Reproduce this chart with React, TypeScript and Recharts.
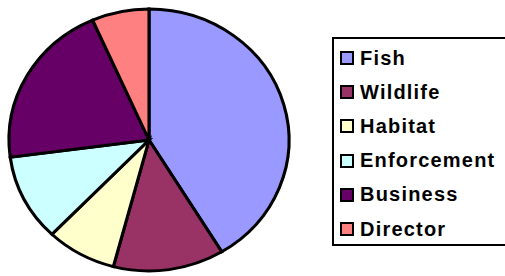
import { PieChart, Pie, Cell } from "recharts";

const categories = ["Fish", "Wildlife", "Habitat", "Enforcement", "Business", "Director"];
const shares = [41.3, 12.8, 8.1, 10.7, 20.5, 6.6];
const colors = ["#9999FF", "#993366", "#FFFFCC", "#CCFFFF", "#660066", "#FF8080"];

const data = categories.map((name, i) => ({ name, value: shares[i] }));

export default function App() {
  return (
    <div style={{ position: "fixed", left: 0, top: 0, width: 505, height: 276, overflow: "hidden", background: "#fff" }}>
      {/* the original pie is slightly wider than tall */}
      <style>{`.recharts-pie { transform-origin: 149px 140px; transform: scale(1.037, 0.97); }`}</style>
      <PieChart width={300} height={276} margin={{ top: 0, right: 0, bottom: 0, left: 0 }}>
        <Pie
          data={data}
          dataKey="value"
          nameKey="name"
          cx={149}
          cy={140}
          outerRadius={135}
          startAngle={90}
          endAngle={-270}
          stroke="#000"
          strokeWidth={3}
          isAnimationActive={false}
        >
          {data.map((d, i) => (
            <Cell key={d.name} fill={colors[i]} />
          ))}
        </Pie>
      </PieChart>
      <div
        style={{
          position: "absolute",
          left: 332,
          top: 37,
          width: 200,
          height: 209,
          boxSizing: "border-box",
          border: "2.5px solid #000",
          fontFamily: "'Liberation Sans', Arial, sans-serif",
          fontWeight: "bold",
          fontSize: 20,
          letterSpacing: 1.2,
          color: "#000",
        }}
      >
        {categories.map((c, i) => (
          <div key={c} style={{ position: "absolute", left: 6, top: 7 + i * 34.2, height: 24, display: "flex", alignItems: "center" }}>
            <span style={{ boxSizing: "border-box", width: 14, height: 14, border: "2.5px solid #000", background: colors[i], marginRight: 6 }} />
            <span>{c}</span>
          </div>
        ))}
      </div>
    </div>
  );
}
